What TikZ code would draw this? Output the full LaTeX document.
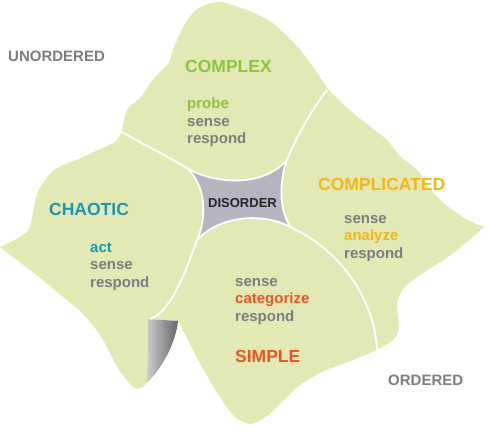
\documentclass[tikz,border=0pt]{standalone}
\usepackage{fontspec}
\setmainfont{Liberation Sans}
\usetikzlibrary{positioning}
\definecolor{fieldgreen}{HTML}{E2E9B5}
\definecolor{complexgreen}{HTML}{8CC43F}
\definecolor{complicatedyellow}{HTML}{F2B619}
\definecolor{chaoticblue}{HTML}{1A97B2}
\definecolor{simplered}{HTML}{EC5424}
\definecolor{wordgray}{HTML}{7C7D7F}
\definecolor{disordergray}{HTML}{B4B5BF}

\begin{document}
\begin{tikzpicture}[x=1pt,y=-1pt]
  \tikzset{domainname/.style = {anchor=base west,inner sep=0pt,font=\fontsize{17.5}{20}\selectfont\bfseries}}
  \tikzset{word/.style = {anchor=base west,inner sep=0pt,font=\fontsize{15}{18}\selectfont\bfseries,text=wordgray}}
  \tikzset{corner/.style = {anchor=base west,inner sep=0pt,font=\fontsize{15}{18}\selectfont\bfseries,text=wordgray}}
  \tikzset{border/.style = {draw=white,line width=1.8pt}}

  \useasboundingbox (0,0) rectangle (487,432);

  % field
  \fill[fieldgreen] (122,132)
    -- plot[smooth,tension=0.5] coordinates {(122,132) (124,120) (128,108) (139,99) (147,88) (157,75) (168,64) (173,50) (178,38) (186,22) (196,10) (208,4) (222,2) (238,7) (254,13) (270,21) (286,35) (302,52) (318,74) (328,89) (343,104) (358,117) (372,128) (387,140) (400,156) (418,171) (430,189) (446,205) (466,219) (484,227)}
    -- plot[smooth,tension=0.5] coordinates {(484,227) (468,241) (448,257) (420,275) (403,289) (397,306) (399,324) (395,338) (377,350) (350,361) (322,372) (300,385) (283,401) (267,416) (250,424) (234,416) (218,394) (202,367) (188,340) (178,321)}
    -- (148,319) -- (147,383)
    -- plot[smooth,tension=0.5] coordinates {(147,383) (141,388) (133,387) (118,368) (102,338) (85,316) (67,300) (35,274) (0,247)}
    -- plot[smooth,tension=0.5] coordinates {(0,247) (18,238) (29,229) (33,212) (37,194) (45,180) (57,168) (83,157) (100,149) (115,142) (122,132)}
    -- cycle;

  % fold
  \shade[left color=gray!40,right color=gray!80!black] (148,319) -- (178,321) .. controls (176,340) and (165,365) .. (147,383) -- cycle;

  % disorder
  \path[fill=disordergray,border] (187,168) .. controls (210,182) and (260,190) .. (287,160)
    .. controls (278,185) and (280,215) .. (292,228)
    .. controls (265,212) and (220,215) .. (197,240)
    .. controls (208,215) and (205,185) .. (187,168) -- cycle;

  % boundaries
  \draw[border] (122,132) .. controls (145,145) and (170,158) .. (187,168);
  \draw[border] (327,90) .. controls (310,112) and (295,140) .. (287,160);
  \draw[border] (292,228) .. controls (340,250) and (375,300) .. (377,350);
  \draw[border] (197,240) .. controls (188,265) and (172,312) .. (150,319);

  \node[corner] (unordered) at (8,61.5) {UNORDERED};
  \node[corner] (ordered) at (388,385) {ORDERED};
  \node[anchor=base west,inner sep=0pt,font=\fontsize{13}{15}\selectfont\bfseries,text=black!85] (disorder) at (208,207) {DISORDER};

  \node[domainname,text=complexgreen] (complex) at (185,72) {COMPLEX};
  \node[word,text=complexgreen] (Xprobe) at (187,108.5) {probe};
  \node[word] (Xsense) at (187,126) {sense};
  \node[word] (Xrespond) at (187,143.5) {respond};

  \node[domainname,text=complicatedyellow] (complicated) at (318,190) {COMPLICATED};
  \node[word] (Msense) at (344,223) {sense};
  \node[word,text=complicatedyellow] (Manalyze) at (344,240.5) {analyze};
  \node[word] (Mrespond) at (344,258) {respond};

  \node[domainname,text=chaoticblue] (chaotic) at (49,215) {CHAOTIC};
  \node[word,text=chaoticblue] (Cact) at (90,252) {act};
  \node[word] (Csense) at (90,269.5) {sense};
  \node[word] (Crespond) at (90,287) {respond};

  \node[word] (Ssense) at (235,286) {sense};
  \node[word,text=simplered] (Scategorize) at (235,303.5) {categorize};
  \node[word] (Srespond) at (235,321) {respond};
  \node[domainname,text=simplered] (simple) at (235,362.5) {SIMPLE};
\end{tikzpicture}
\end{document}
